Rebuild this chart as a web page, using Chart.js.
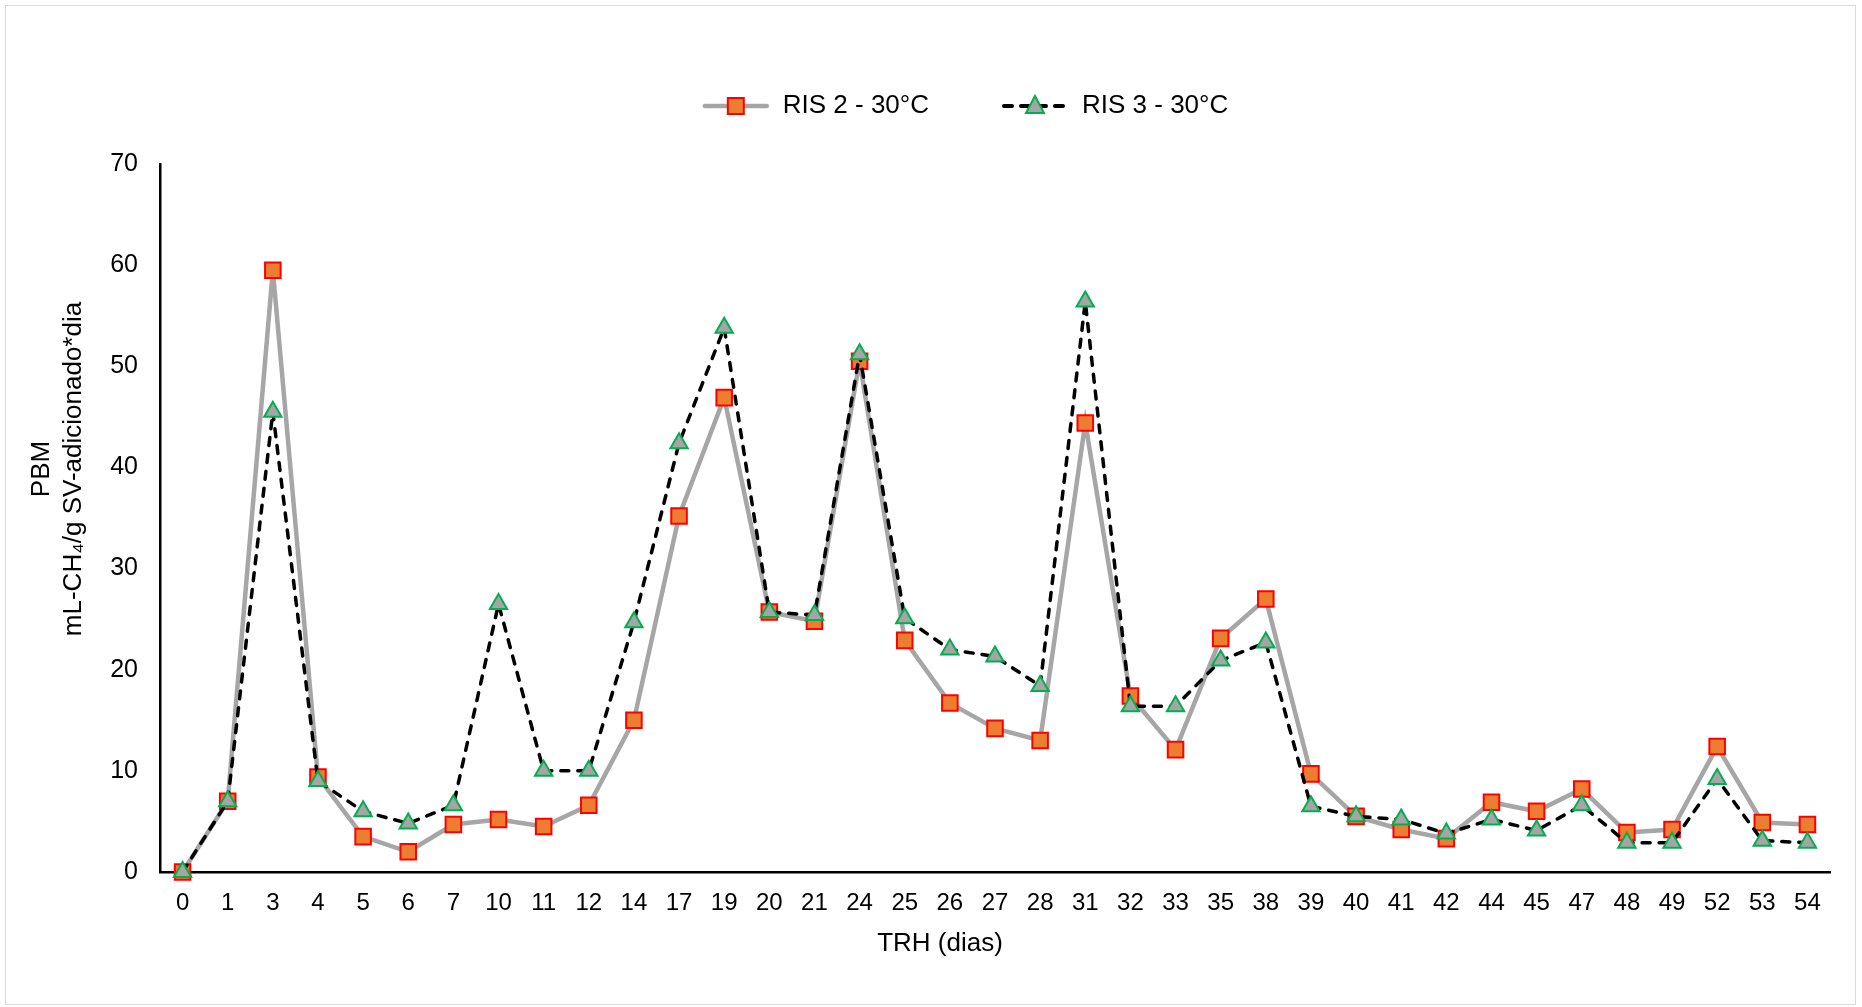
<!DOCTYPE html>
<html>
<head>
<meta charset="utf-8">
<script src="https://cdn.jsdelivr.net/npm/chart.js@4.4.1/dist/chart.umd.min.js"></script>
<style>
    html, body { margin: 0; padding: 0; background: #ffffff; }
    #wrap { width: 1862px; height: 1007px; }
</style>
</head>
<body>
<div id="wrap"><canvas id="graficoPBM"></canvas></div>
<script>

const categorias = ["0", "1", "3", "4", "5", "6", "7", "10", "11", "12", "14", "17", "19", "20", "21", "24",
    "25", "26", "27", "28", "31", "32", "33", "35", "38", "39", "40", "41", "42", "44", "45", "47",
    "48", "49", "52", "53", "54"];

const ris2 = [0, 7.0, 59.5, 9.4, 3.5, 2.0, 4.7, 5.2, 4.5, 6.6, 15.0, 35.2, 46.9, 25.7, 24.8, 50.5,
    22.9, 16.7, 14.2, 13.0, 44.4, 17.4, 12.1, 23.1, 27.0, 9.7, 5.5, 4.2, 3.3, 6.9, 6.0, 8.2,
    3.9, 4.2, 12.4, 4.9, 4.7];

const ris3 = [0, 7.0, 45.5, 9.0, 6.0, 4.8, 6.6, 26.5, 10.0, 10.0, 24.7, 42.4, 53.8, 25.7, 25.4, 51.2,
    25.1, 22.0, 21.3, 18.4, 56.4, 16.4, 16.4, 20.9, 22.7, 6.5, 5.5, 5.2, 3.8, 5.2, 4.1, 6.6,
    2.9, 2.9, 9.2, 3.1, 2.9];

const yMin = 0;
const yMax = 70;
const yPaso = 10;

const fuente = "'Liberation Sans', Arial, sans-serif";

// simbolos de la leyenda: linea + marcador
function simbolo(tipo) {
    const c = document.createElement("canvas");
    c.width = 68;
    c.height = 26;
    const g = c.getContext("2d");
    g.lineCap = "round";
    if (tipo === "ris2") {
        g.strokeStyle = "#a6a6a6";
        g.lineWidth = 4.5;
        g.beginPath();
        g.moveTo(3, 13);
        g.lineTo(65, 13);
        g.stroke();
        g.fillStyle = "#ed7d31";
        g.strokeStyle = "#ff0000";
        g.lineWidth = 2;
        g.fillRect(26, 5, 16, 16);
        g.strokeRect(26, 5, 16, 16);
    } else {
        g.strokeStyle = "#000000";
        g.lineWidth = 4;
        g.setLineDash([8, 9]);
        g.beginPath();
        g.moveTo(3, 13);
        g.lineTo(65, 13);
        g.stroke();
        g.setLineDash([]);
        g.fillStyle = "#a5a5a5";
        g.strokeStyle = "#00b050";
        g.lineWidth = 2;
        g.beginPath();
        g.moveTo(34, 3);
        g.lineTo(43, 20);
        g.lineTo(25, 20);
        g.closePath();
        g.fill();
        g.stroke();
    }
    return c;
}
const simbolos = [simbolo("ris2"), simbolo("ris3")];

const marco = {
    id: "marco",
    beforeDraw(chart) {
        const ctx = chart.ctx;
        ctx.save();
        ctx.fillStyle = "#ffffff";
        ctx.fillRect(0, 0, chart.width, chart.height);
        ctx.strokeStyle = "#d9d9d9";
        ctx.lineWidth = 1;
        ctx.strokeRect(5.5, 5.5, 1850, 999);
        ctx.restore();
    }
};

// titulos de los ejes, colocados como en la figura original
const titulos = {
    id: "titulos",
    afterDraw(chart) {
        const ctx = chart.ctx;
        ctx.save();
        ctx.fillStyle = "#000000";
        ctx.font = "26px " + fuente;
        ctx.textAlign = "center";
        ctx.textBaseline = "middle";
        ctx.fillText("TRH (dias)", 940, 944);
        ctx.translate(58, 469);
        ctx.rotate(-Math.PI / 2);
        ctx.fillText("PBM", 0, -16);
        ctx.fillText("mL-CH\u2084/g SV-adicionado*dia", 0, 16);
        ctx.restore();
    }
};

const altoLeyenda = {
    id: "altoLeyenda",
    beforeInit(chart) {
        const fitOriginal = chart.legend.fit;
        chart.legend.fit = function () {
            fitOriginal.call(this);
            this.height = 143;
        };
    }
};

const lienzo = document.getElementById("graficoPBM");

new Chart(lienzo, {
    type: "line",
    data: {
        labels: categorias,
        datasets: [{
            label: "RIS 2 - 30°C",
            data: ris2,
            order: 1,
            borderColor: "#a6a6a6",
            borderWidth: 4.5,
            pointStyle: "rect",
            pointRadius: 11,
            pointHoverRadius: 11,
            pointBackgroundColor: "#ed7d31",
            pointBorderColor: "#ff0000",
            pointBorderWidth: 2,
            tension: 0,
            clip: false
        }, {
            label: "RIS 3 - 30°C",
            data: ris3,
            order: 0,
            borderColor: "#000000",
            borderWidth: 3.5,
            borderDash: [8, 9],
            borderCapStyle: "round",
            pointStyle: "triangle",
            pointRadius: 10,
            pointHoverRadius: 10,
            pointBackgroundColor: "#a5a5a5",
            pointBorderColor: "#00b050",
            pointBorderWidth: 2,
            tension: 0,
            clip: false
        }]
    },
    options: {
        responsive: true,
        maintainAspectRatio: false,
        animation: false,
        layout: {
            padding: { left: 100, right: 32, top: 21, bottom: 0 }
        },
        plugins: {
            legend: {
                display: true,
                position: "top",
                labels: {
                    usePointStyle: true,
                    pointStyleWidth: 68,
                    padding: 72,
                    color: "#000000",
                    font: { family: fuente, size: 26 },
                    generateLabels(chart) {
                        const base = Chart.defaults.plugins.legend.labels.generateLabels(chart);
                        base.sort((a, b) => a.datasetIndex - b.datasetIndex);
                        base.forEach(item => { item.pointStyle = simbolos[item.datasetIndex]; });
                        return base;
                    }
                }
            },
            tooltip: { enabled: false }
        },
        scales: {
            x: {
                offset: true,
                grid: { display: false, drawTicks: false },
                border: { display: true, color: "#000000", width: 2.5 },
                ticks: {
                    color: "#000000",
                    font: { family: fuente, size: 24 },
                    padding: 17,
                    autoSkip: false,
                    maxRotation: 0
                },
                afterFit(scale) {
                    scale.height = 135;
                }
            },
            y: {
                min: yMin,
                max: yMax,
                grid: { display: false, drawTicks: false },
                border: { display: true, color: "#000000", width: 2.5 },
                ticks: {
                    stepSize: yPaso,
                    color: "#000000",
                    font: { family: fuente, size: 25 },
                    padding: 22
                },
                afterFit(scale) {
                    scale.width = 60;
                }
            }
        }
    },
    plugins: [marco, titulos, altoLeyenda]
});

</script>
</body>
</html>
